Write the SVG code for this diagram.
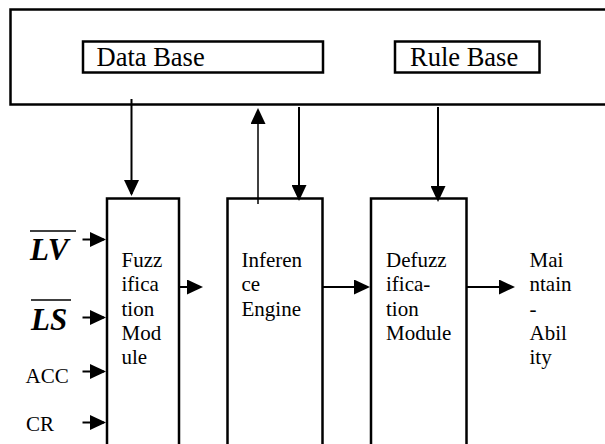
<svg xmlns="http://www.w3.org/2000/svg" width="605" height="444" viewBox="0 0 605 444">
<style>
.box{fill:#fff;stroke:#000;stroke-width:2.5}
text{font-family:'Liberation Serif','DejaVu Serif',serif;fill:#000}
.c{stroke:#000;stroke-width:2;fill:none}
.big{font-size:26.5px}
.s{font-size:21px}
.bi{font-size:31px;font-weight:bold;font-style:italic}
.ov{stroke:#000;stroke-width:1.5}
</style>
<defs>
<marker id="ah" viewBox="0 0 16 15" refX="14" refY="7.5" markerWidth="16" markerHeight="15" markerUnits="userSpaceOnUse" orient="auto">
<path d="M0,0 L16,7.5 L0,15 z" fill="#000"/>
</marker>
</defs>
<rect width="605" height="444" fill="#fff"/>
<g id="knowledge-base">
<rect class="box" x="10.5" y="9.5" width="600" height="95"/>
</g>
<g id="data-base">
<rect class="box" x="83" y="41.5" width="240" height="31"/>
<text class="big" x="96.5" y="65.5">Data Base</text>
</g>
<g id="rule-base">
<rect class="box" x="395" y="41.5" width="144.5" height="31"/>
<text class="big" x="410" y="65.5">Rule Base</text>
</g>
<g id="fuzzification">
<rect class="box" x="107" y="198.5" width="72" height="260"/>
<text class="s"><tspan x="121.5" y="267">Fuzz</tspan><tspan x="121.5" y="291">ifica</tspan><tspan x="121.5" y="315.5">tion</tspan><tspan x="121.5" y="340">Mod</tspan><tspan x="121.5" y="364">ule</tspan></text>
</g>
<g id="inference">
<rect class="box" x="227.5" y="198.5" width="95" height="260"/>
<text class="s"><tspan x="241.5" y="267">Inferen</tspan><tspan x="241.5" y="291">ce</tspan><tspan x="241.5" y="315.5">Engine</tspan></text>
</g>
<g id="defuzzification">
<rect class="box" x="371" y="198.5" width="95.5" height="260"/>
<text class="s"><tspan x="386" y="267">Defuzz</tspan><tspan x="386" y="291">ifica-</tspan><tspan x="386" y="315.5">tion</tspan><tspan x="386" y="340">Module</tspan></text>
</g>
<g id="output">
<text class="s"><tspan x="529.5" y="267">Mai</tspan><tspan x="529.5" y="291">ntain</tspan><tspan x="529.5" y="315.5">-</tspan><tspan x="529.5" y="340">Abil</tspan><tspan x="529.5" y="364">ity</tspan></text>
</g>
<g id="inputs">
<text class="bi" x="30" y="260">LV</text>
<line class="ov" x1="30" y1="231" x2="76" y2="231"/>
<text class="bi" x="31" y="329.5">LS</text>
<line class="ov" x1="31" y1="300" x2="71" y2="300"/>
<text class="s" x="25.5" y="382.5">ACC</text>
<text class="s" x="26" y="430.5">CR</text>
</g>
<g id="connectors">
<line class="c" x1="131.5" y1="99" x2="131.5" y2="194" marker-end="url(#ah)"/>
<line class="c" x1="258" y1="204" x2="258" y2="110" style="stroke-width:1.5" marker-end="url(#ah)"/>
<line class="c" x1="299" y1="107" x2="299" y2="199" marker-end="url(#ah)"/>
<line class="c" x1="438" y1="107" x2="438" y2="200" marker-end="url(#ah)"/>
<line class="c" x1="179" y1="287" x2="201" y2="287" marker-end="url(#ah)"/>
<line class="c" x1="322.5" y1="287" x2="368" y2="287" marker-end="url(#ah)"/>
<line class="c" x1="466.5" y1="287" x2="513" y2="287" marker-end="url(#ah)"/>
<line class="c" x1="82.5" y1="239.5" x2="104" y2="239.5" marker-end="url(#ah)"/>
<line class="c" x1="82.5" y1="317.5" x2="104" y2="317.5" marker-end="url(#ah)"/>
<line class="c" x1="82.5" y1="371.5" x2="104" y2="371.5" marker-end="url(#ah)"/>
<line class="c" x1="82.5" y1="422.5" x2="104" y2="422.5" marker-end="url(#ah)"/>
</g>
</svg>
